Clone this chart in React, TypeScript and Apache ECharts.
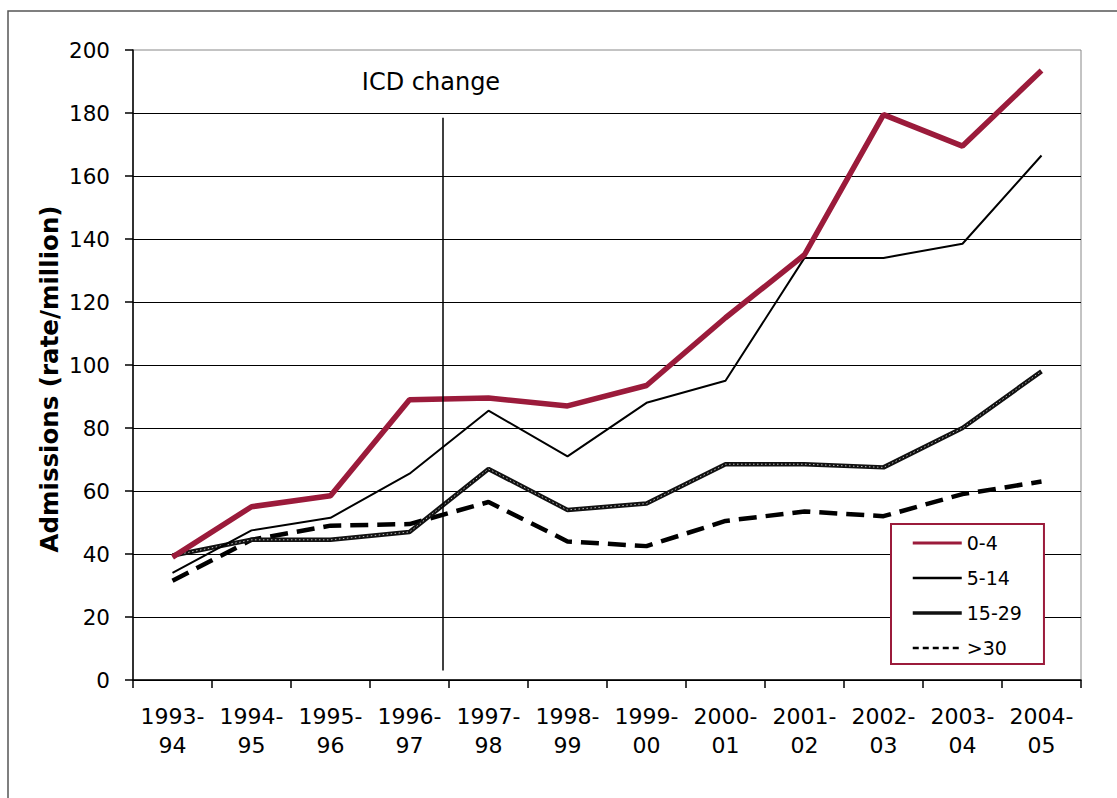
import React, { useEffect, useRef } from "react";
import * as echarts from "echarts";

const categories = ["1993-94", "1994-95", "1995-96", "1996-97", "1997-98", "1998-99", "1999-00", "2000-01", "2001-02", "2002-03", "2003-04", "2004-05"];
const age0to4 = [39, 55, 58.5, 89, 89.5, 87, 93.5, 115, 135, 179.5, 169.5, 193.5];
const age5to14 = [34, 47.5, 51.5, 65.5, 85.5, 71, 88, 95, 134, 134, 138.5, 166.5];
const age15to29 = [39.5, 44.5, 44.5, 47, 67, 54, 56, 68.5, 68.5, 67.5, 80, 98];
const age30plus = [31.5, 44.5, 49, 49.5, 56.5, 44, 42.5, 50.5, 53.5, 52, 59, 63];
const yTicks = { min: 0, max: 200, interval: 20 };
const icdChangeX = 3.42; // position between 1996-97 and 1997-98 on category index scale
const icdChangeYRange = [178.5, 3];

const RED = "#9b1b3b";
const FONT = "DejaVu Sans";

export default function App() {
  const ref = useRef<HTMLDivElement>(null);
  useEffect(() => {
    if (!ref.current) return;
    const chart = echarts.init(ref.current, undefined, { renderer: "svg" });
    chart.setOption({
      animation: false,
      backgroundColor: "#fff",
      grid: { left: 133, top: 50, right: 36, bottom: 118, show: true, borderColor: "#888", borderWidth: 1, backgroundColor: "transparent" },
      xAxis: [
        {
          type: "category",
          data: categories,
          boundaryGap: true,
          axisLine: { lineStyle: { color: "#000", width: 1.5 } },
          axisTick: { show: true, length: 8, lineStyle: { color: "#000", width: 1.5 } },
          axisLabel: {
            interval: 0,
            margin: 22,
            color: "#000",
            fontFamily: FONT,
            fontSize: 22,
            lineHeight: 29,
            formatter: (v: string) => v.replace("-", "-\n"),
          },
          splitLine: { show: false },
        },
        { type: "value", min: -0.5, max: 11.5, show: false },
      ],
      yAxis: {
        type: "value",
        min: yTicks.min,
        max: yTicks.max,
        interval: yTicks.interval,
        axisLine: { show: true, onZero: false, lineStyle: { color: "#000", width: 1.5 } },
        axisTick: { show: true, length: 8, lineStyle: { color: "#000", width: 1.5 } },
        axisLabel: { margin: 23, color: "#000", fontFamily: FONT, fontSize: 21.5 },
        splitLine: { show: true, showMaxLine: false, lineStyle: { color: "#000", width: 1 } },
      },
      legend: {
        orient: "vertical",
        left: 891,
        top: 524,
        data: [
          { name: "0-4", lineStyle: { width: 3, color: RED } },
          { name: "5-14", lineStyle: { width: 2.5, color: "#000" } },
          { name: "15-29", lineStyle: { width: 3.5, color: "#111" } },
          { name: ">30", lineStyle: { width: 2.5, color: "#000", type: [6, 4] } },
        ],
        itemWidth: 49,
        itemHeight: 14,
        itemGap: 15,
        padding: [9, 22, 6, 20],
        borderColor: RED,
        borderWidth: 2,
        backgroundColor: "#fff",
        itemStyle: { opacity: 0 },
        textStyle: { fontFamily: FONT, fontSize: 19, lineHeight: 20, color: "#000" },
      },
      graphic: [
        { type: "rect", shape: { x: 8, y: 11, width: 1130, height: 820 }, style: { fill: "none", stroke: "#555", lineWidth: 1.5 }, silent: true },
        { type: "text", x: 431, y: 82, style: { text: "ICD change", fontFamily: FONT, fontSize: 24, fill: "#000", align: "center", verticalAlign: "middle" } },
        { type: "text", x: 49, y: 379, rotation: Math.PI / 2, style: { text: "Admissions (rate/million)", fontFamily: FONT, fontSize: 24.5, fontWeight: "bold", fill: "#000", align: "center", verticalAlign: "middle" } },
      ],
      series: [
        {
          name: "icd",
          type: "line",
          xAxisIndex: 1,
          yAxisIndex: 0,
          data: [],
          silent: true,
          markLine: {
            symbol: "none",
            silent: true,
            label: { show: false },
            lineStyle: { color: "#000", width: 1.5, type: "solid" },
            data: [[{ coord: [icdChangeX, icdChangeYRange[0]] }, { coord: [icdChangeX, icdChangeYRange[1]] }]],
          },
        },
        {
          name: ">30",
          type: "line",
          data: age30plus,
          symbol: "none",
          lineStyle: { color: "#000", width: 4.5, type: [18, 9] },
          itemStyle: { color: "#000" },
        },
        {
          name: "15-29",
          type: "line",
          data: age15to29,
          symbol: "none",
          lineStyle: { color: "#111", width: 4.5 },
          itemStyle: { color: "#111" },
        },
        {
          name: "15-29 dots",
          type: "line",
          data: age15to29,
          symbol: "none",
          silent: true,
          lineStyle: { color: "#bbb", width: 1, type: [1.5, 2.5] },
          itemStyle: { color: "#bbb" },
        },
        {
          name: "5-14",
          type: "line",
          data: age5to14,
          symbol: "none",
          lineStyle: { color: "#000", width: 2 },
          itemStyle: { color: "#000" },
        },
        {
          name: "0-4",
          type: "line",
          data: age0to4,
          symbol: "none",
          lineStyle: { color: RED, width: 5.5 },
          itemStyle: { color: RED },
        },
      ],
    });
    return () => chart.dispose();
  }, []);
  return <div ref={ref} style={{ position: "fixed", left: 0, top: 0, width: 1117, height: 798 }} />;
}
